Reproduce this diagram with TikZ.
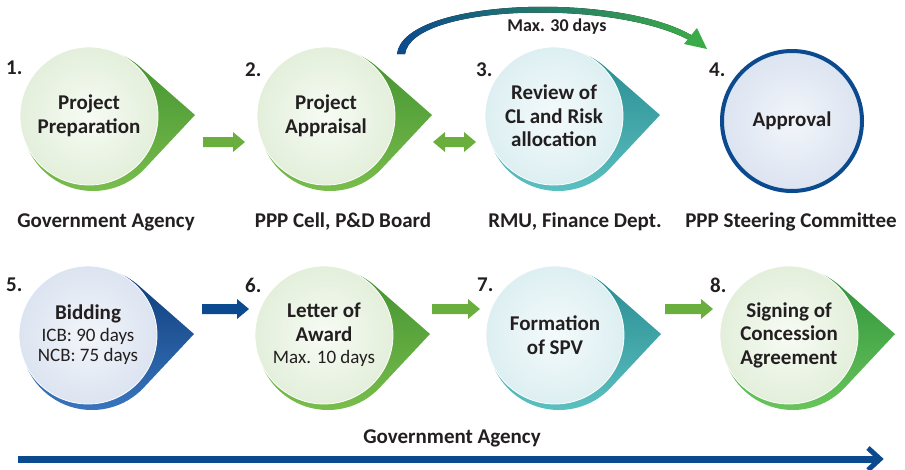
\documentclass[tikz,border=0pt]{standalone}
\usepackage{fontspec}
\setmainfont{Carlito}
\usetikzlibrary{calc}
\definecolor{txt}{HTML}{231F20}
\definecolor{gdark}{HTML}{3E8E2E}
\definecolor{glight}{HTML}{7CC04E}
\definecolor{gfin}{HTML}{F7FBF4}
\definecolor{gfout}{HTML}{E3EFDB}
\definecolor{tdark}{HTML}{23868C}
\definecolor{tlight}{HTML}{5EC3C3}
\definecolor{tfin}{HTML}{F4FAFB}
\definecolor{tfout}{HTML}{DDEFF2}
\definecolor{bdark}{HTML}{0A3874}
\definecolor{blight}{HTML}{3B78C2}
\definecolor{bfin}{HTML}{F2F5FA}
\definecolor{bfout}{HTML}{DCE4F1}
\definecolor{gtdark}{HTML}{2A8E3A}
\definecolor{gtlight}{HTML}{6CC85C}
\definecolor{arrg}{HTML}{6AAF3D}
\definecolor{navy}{HTML}{0B4A8E}
\definecolor{curvg}{HTML}{3BAA48}
\newcommand\reg[1]{{\mdseries\fontsize{19}{21}\selectfont #1}}
\newcommand\tdrop[8]{%
  \coordinate (#1-c) at (#2,#3);
  \coordinate (#1-d) at ($(#1-c)+(4,4)$);
  \coordinate (#1-t) at ($(#1-c)+(106,-1)$);
  \path[top color=#4, bottom color=#5] (#1-t) -- ($(#1-d)+(43.1:71)$)
     arc[start angle=43.1, end angle=311.3, radius=71] -- cycle;
  \node[bubble, inner color=#6, outer color=#7] (#1) at (#1-c) {#8};
}
\newcommand\blockarrow[4]{% x1, x2, y, color
  \fill[#4] (#1,#3-5) -- (#2-12,#3-5) -- (#2-12,#3-10) -- (#2,#3)
    -- (#2-12,#3+10) -- (#2-12,#3+5) -- (#1,#3+5) -- cycle;
}
\begin{document}
\begin{tikzpicture}[x=1pt,y=-1pt,
  bubble/.style={circle, minimum size=138pt, inner sep=0pt, align=center,
    text=txt, draw=white!60, line width=0.8pt,
    font=\bfseries\fontsize{21}{23.5}\selectfont},
  lbl/.style={text=txt, inner sep=0pt, font=\bfseries\fontsize{21}{24}\selectfont},
  num/.style={text=txt, inner sep=0pt, anchor=west, font=\bfseries\fontsize{21}{24}\selectfont}]
\useasboundingbox (0,0) rectangle (905,469);

% top row
\tdrop{n1}{89}{116}{gdark}{glight}{gfin}{gfout}{Project\\Preparation}
\tdrop{n2}{326}{116}{gdark}{glight}{gfin}{gfout}{Project\\Appraisal}
\tdrop{n3}{554}{116}{tdark}{tlight}{tfin}{tfout}{Review of\\CL and Risk\\allocation}
\node[circle, minimum size=140pt, inner sep=0pt, draw=navy, line width=4pt,
  inner color=bfin, outer color=bfout, text=txt,
  font=\bfseries\fontsize{21}{24}\selectfont] (n4) at (792,121) {Approval};

% bottom row
\tdrop{n5}{88}{335}{bdark}{blight}{bfin}{bfout}{Bidding\\[-2pt]\reg{ICB: 90 days}\\[-3pt]\reg{NCB: 75 days}}
\tdrop{n6}{324}{335}{gdark}{glight}{gfin}{gfout}{Letter of\\Award\\[-1pt]\reg{Max. 10 days}}
\tdrop{n7}{555}{335}{tdark}{tlight}{tfin}{tfout}{Formation\\of SPV}
\tdrop{n8}{789}{335}{gtdark}{gtlight}{gfin}{gfout}{Signing of\\Concession\\Agreement}

% numbers
\node[num] (k1) at (6,68) {1.};
\node[num] (k2) at (245,70) {2.};
\node[num] (k3) at (476,70) {3.};
\node[num] (k4) at (709,70) {4.};
\node[num] (k5) at (6,285) {5.};
\node[num] (k6) at (245,285) {6.};
\node[num] (k7) at (477,285) {7.};
\node[num] (k8) at (710,285) {8.};

% labels
\node[lbl] (l1) at (106,222) {Government Agency};
\node[lbl] (l2) at (343,222) {PPP Cell, P\&D Board};
\node[lbl] (l3) at (575,222) {RMU, Finance Dept.};
\node[lbl] (l4) at (791,222) {PPP Steering Committee};
\node[lbl] (l5) at (452,438) {Government Agency};

% block arrows
\blockarrow{203}{245}{142}{arrg}
\fill[arrg] (445,137) -- (464,137) -- (464,132) -- (476,142) -- (464,152) -- (464,147)
  -- (445,147) -- (445,152) -- (433,142) -- (445,132) -- cycle;
\blockarrow{202}{249}{309}{navy}
\blockarrow{432}{480}{309}{arrg}
\blockarrow{665}{713}{309}{arrg}

% curved arrow from 2 to 4
\coordinate (cs) at (401,54);
\coordinate (ce) at (707,49);
\fill[left color=navy, right color=curvg] (397,54) .. controls (404,-2) and (616,-8) .. (691,35)
  -- (689,40) .. controls (612,-1) and (412,4) .. (405,54) -- cycle;
\fill[curvg] (ce) -- (684,44) -- (697,28) -- cycle;
\node[text=txt, inner sep=0pt, font=\bfseries\fontsize{18}{20}\selectfont] (mx) at (557,27) {Max. 30 days};

% long arrow
\coordinate (gs) at (18,459);
\coordinate (ge) at (880,459);
\draw[navy, line width=7pt] (gs) -- (ge);
\draw[navy, line width=5pt] (868,448) -- (ge) -- (868,470);
\end{tikzpicture}
\end{document}
